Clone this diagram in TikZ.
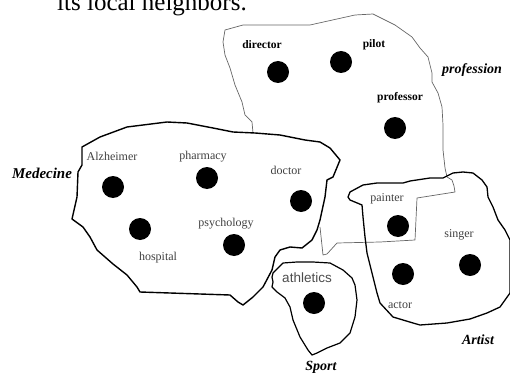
\documentclass[tikz,border=0pt]{standalone}
\usepackage{fontspec}
\setmainfont{Liberation Serif}
\newfontfamily\sansf{Liberation Sans}
\begin{document}
\begin{tikzpicture}[x=1pt,y=-1pt,
  dot/.style={circle,fill=black,minimum size=22pt,inner sep=0pt},
  lab/.style={inner sep=0pt,font=\fontsize{12}{14}\selectfont,text=black!75},
  blab/.style={inner sep=0pt,font=\fontsize{11.5}{13}\selectfont\bfseries},
  cat/.style={inner sep=0pt,font=\fontsize{14}{16}\selectfont\bfseries\itshape},
  thinreg/.style={draw=black!60,line width=0.7pt,line join=round},
  thickreg/.style={draw=black,line width=1.4pt,line join=round}]
\useasboundingbox (0,0) rectangle (510,374);
\clip (0,0) rectangle (510,374);
% top text (cropped)
\node[anchor=base west,inner sep=0pt,font=\fontsize{25}{30}\selectfont] (top) at (57,11) {its local neighbors.};
% profession region
\draw[thinreg] (253,133) -- (252,122) -- (245,115) -- (242,102) -- (235,85) -- (230,68) -- (225,55) -- (223,42) -- (225,30) -- (243,25) -- (277,25) -- (310,25) -- (355,15) -- (373,14) -- (395,25) -- (412,37) -- (420,48) -- (428,57) -- (432,73) -- (432,82) -- (438,93) -- (442,107) -- (443,125) -- (443,150) -- (445,168) -- (447,177) -- (452,180) -- (454,186) -- (455,192) -- (417,198) -- (415,240) -- (380,242) -- (337,243) -- (327,254) -- (323,255) -- (320,227);
% Artist region
\draw[thickreg,line width=1.3pt] (348,197) -- (350,192) -- (363,185) -- (377,183) -- (403,183) -- (410,181) -- (430,178) -- (443,178) -- (453,173) -- (463,172) -- (473,173) -- (482,180) -- (487,187) -- (488,197) -- (493,207) -- (498,220) -- (505,230) -- (510,240) -- (510,293) -- (505,300) -- (500,307) -- (487,313) -- (470,319) -- (447,323) -- (420,325) -- (413,323) -- (393,317) -- (380,303) -- (377,293) -- (372,273) -- (367,253) -- (365,237) -- (363,217) -- (362,205) -- (350,200) -- cycle;
% Medecine region
\draw[thickreg] (82,147) -- (100,137) -- (127,127) -- (167,122) -- (187,123) -- (213,128) -- (233,132) -- (255,133) -- (280,135) -- (305,140) -- (320,142) -- (330,148) -- (340,160) -- (333,177) -- (327,180) -- (325,197) -- (320,220) -- (317,230) -- (312,240) -- (302,248) -- (290,247) -- (280,250) -- (275,257) -- (272,270) -- (263,287) -- (253,297) -- (243,305) -- (238,302) -- (230,295) -- (140,292) -- (137,287) -- (127,275) -- (113,264) -- (97,250) -- (90,237) -- (83,227) -- (72,219) -- (77,197) -- (78,172) -- (82,165) -- cycle;
% Sport region
\draw[thickreg,line width=1.2pt] (273,273) -- (283,263) -- (297,262) -- (313,262) -- (330,263) -- (343,270) -- (352,278) -- (355,285) -- (357,300) -- (355,317) -- (350,333) -- (340,343) -- (327,348) -- (317,353) -- (312,355) -- (308,350) -- (300,337) -- (293,320) -- (290,307) -- (285,298) -- (277,292) -- (272,287) -- (273,282) -- (272,277) -- cycle;
% dots
\node[dot] (ddirector) at (278,72) {};
\node[dot] (dpilot) at (341,62) {};
\node[dot] (dprofessor) at (395,128) {};
\node[dot] (dalz) at (113,187) {};
\node[dot] (dpharmacy) at (207,178) {};
\node[dot] (dhospital) at (140,229) {};
\node[dot] (dpsychology) at (234,245) {};
\node[dot] (ddoctor) at (301,201) {};
\node[dot] (dpainter) at (398,226) {};
\node[dot] (dactor) at (403,274) {};
\node[dot] (dsinger) at (470,265) {};
\node[dot] (dathletics) at (314,303) {};
% labels
\node[blab] (ldirector) at (262,45) {director};
\node[blab] (lpilot) at (374,45) {pilot};
\node[blab] (lprofessor) at (400,98) {professor};
\node[lab] (lalz) at (112,156) {Alzheimer};
\node[lab] (lpharmacy) at (203,157) {pharmacy};
\node[lab] (ldoctor) at (286,170) {doctor};
\node[lab] (lpsychology) at (226,224) {psychology};
\node[lab] (lhospital) at (158,258) {hospital};
\node[lab] (lpainter) at (387,199) {painter};
\node[lab] (lsinger) at (459,235) {singer};
\node[lab] (lactor) at (400,305) {actor};
\node[inner sep=0pt,font=\sansf\fontsize{13.5}{15}\selectfont,text=black!70] (lathletics) at (307,278) {athletics};
% categories
\node[cat] (cprof) at (472,70) {profession};
\node[cat,font=\fontsize{15}{17}\selectfont\bfseries\itshape] (cmed) at (42,173) {Medecine};
\node[cat] (cartist) at (478,340) {Artist};
\node[cat] (csport) at (321,367) {Sport};
\end{tikzpicture}
\end{document}
